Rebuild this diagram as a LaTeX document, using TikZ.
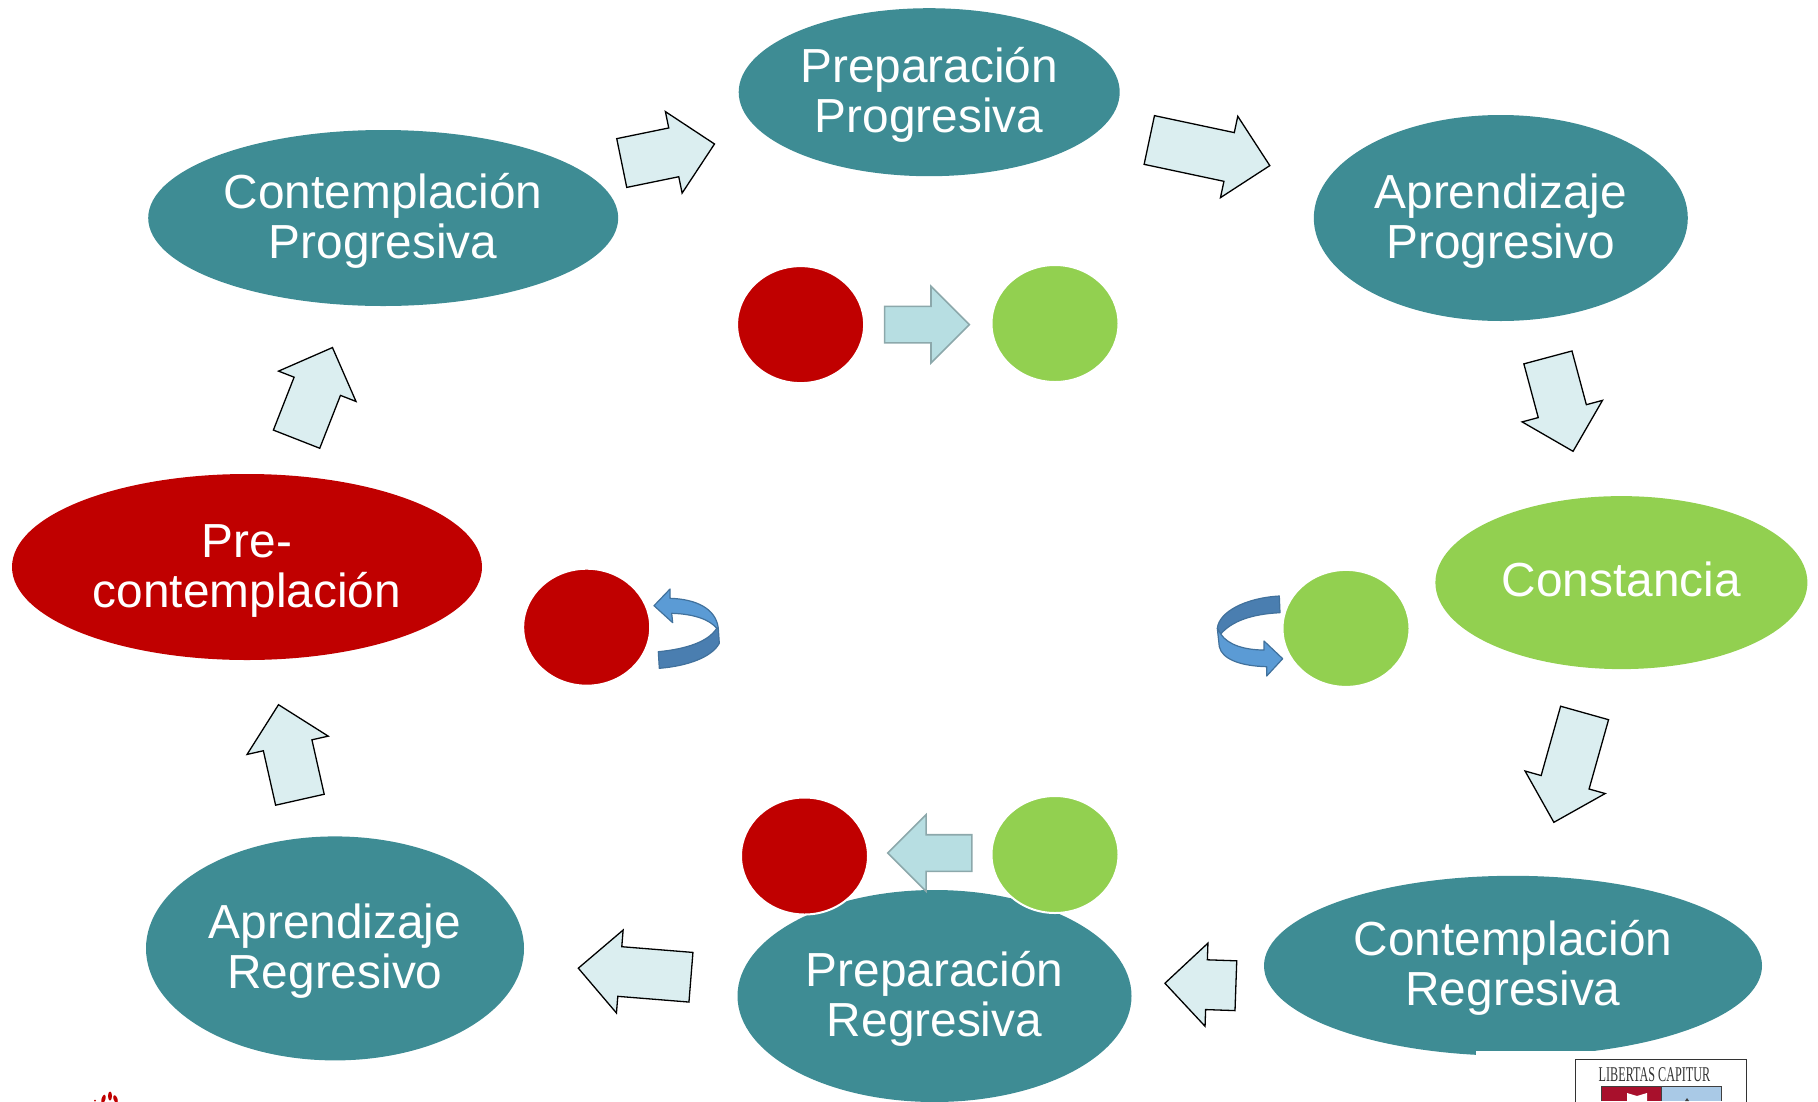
\documentclass[tikz,border=0pt]{standalone}
\usepackage{fontspec}
\setmainfont{Liberation Sans}
\newfontfamily\crestfont{Liberation Serif}
\usetikzlibrary{positioning,shapes.geometric,shapes.arrows}
\definecolor{stageteal}{HTML}{3E8C94}
\definecolor{stagered}{HTML}{C00000}
\definecolor{stagegreen}{HTML}{92D050}
\definecolor{blockfill}{HTML}{DBEEF0}
\definecolor{midfill}{HTML}{B7DEE2}
\definecolor{midline}{HTML}{8CA8AB}
\definecolor{curvelight}{HTML}{5B9BD5}
\definecolor{curvedark}{HTML}{4A7EB0}
\definecolor{curveline}{HTML}{41719C}
\definecolor{crestred}{HTML}{A8102C}
\definecolor{crestblue}{HTML}{A9C9E6}
\tikzset{
  stage/.style={ellipse, fill=stageteal, text=white, inner sep=0pt, align=center, font=\fontsize{47.8}{50}\selectfont},
  twolines/.style={execute at begin node=\rule{0pt}{90pt}},
  oneline/.style={execute at begin node={\rule[-6pt]{0pt}{6pt}}},
  pip/.style={ellipse, draw=white, line width=2pt, minimum width=127pt, minimum height=117pt, inner sep=0pt},
  blockarrow/.style={single arrow, anchor=tip, draw=black, line width=1.3pt, fill=blockfill, inner sep=0pt, text height=48.5pt, text depth=0pt, single arrow head extend=16.7pt},
  midarrow/.style={single arrow, anchor=tip, draw=midline, line width=1.6pt, fill=midfill, inner sep=0pt, text height=35pt, text depth=0pt, single arrow head extend=20pt},
  curveband/.style={fill=curvedark, draw=curveline, line width=1.2pt, line join=round},
  curvehead/.style={fill=curvelight, draw=curveline, line width=1.2pt, line join=round}
}
\begin{document}
\begin{tikzpicture}[x=1pt, y=-1pt, on grid]
\clip (0,0) rectangle (1818,1101);
\node[stage, twolines, fill=stagered, minimum width=470pt, minimum height=186pt] (pre) at (247,567) {Pre-\\contemplación};
\node[stage, twolines, minimum width=470pt, minimum height=176pt, above right=349pt and 136.2pt of pre] (cprog) {Contemplación\\Progresiva};
\node[stage, twolines, minimum width=381pt, minimum height=168pt, above right=125.8pt and 546pt of cprog] (pprog) {Preparación\\Progresiva};
\node[stage, twolines, minimum width=374pt, minimum height=206pt, below right=125.8pt and 571.6pt of pprog] (aprog) {Aprendizaje\\Progresivo};
\node[stage, oneline, fill=stagegreen, minimum width=372pt, minimum height=173pt, below right=364.6pt and 120.6pt of aprog] (const) {Constancia};
\node[stage, twolines, minimum width=498pt, minimum height=180pt, below left=383.2pt and 108.4pt of const] (creg) {Contemplación\\Regresiva};
\node[stage, twolines, minimum width=394pt, minimum height=212pt, below left=30.2pt and 578.5pt of creg] (preg) {Preparación\\Regresiva};
\node[stage, twolines, minimum width=378pt, minimum height=224pt, above left=47.6pt and 599.5pt of preg] (areg) {Aprendizaje\\Regresivo};
\fill[white] (1476,1051) rectangle (1818,1101);

\node[blockarrow, minimum height=94.7pt, rotate=11.6] (arrcp) at (715.4,143.8) {};
\node[blockarrow, minimum height=123.2pt, rotate=-12] (arrpa) at (1270.7,165.8) {};
\node[blockarrow, minimum height=97.2pt, rotate=-75] (arrac) at (1573.3,452.2) {};
\node[blockarrow, minimum height=113.6pt, rotate=-105.7] (arrcc) at (1553.6,823.2) {};
\node[blockarrow, minimum height=71pt, rotate=178] (arrcr) at (1164,983.2) {};
\node[blockarrow, minimum height=113pt, rotate=175.4] (arrpr) at (577.4,968.1) {};
\node[blockarrow, minimum height=97.4pt, rotate=102.7] (arrap) at (278.3,703.8) {};
\node[blockarrow, minimum height=98.4pt, rotate=68.6] (arrpc) at (332.8,346.7) {};

\node[pip, fill=stagered] (redtop) at (800.6,324.6) {};
\node[pip, fill=stagegreen] (greentop) at (1055,323.5) {};
\node[pip, fill=stagered] (redleft) at (586.7,627.2) {};
\node[pip, fill=stagegreen] (greenright) at (1346,628.4) {};
\node[pip, fill=stagered] (redlow) at (804.5,856) {};
\node[pip, fill=stagegreen] (greenlow) at (1055,854.5) {};
\node[midarrow, minimum height=84.6pt, rotate=0] (midtop) at (970.4,324.6) {};
\node[midarrow, minimum height=84pt, rotate=180] (midlow) at (886.7,853) {};

\path[curveband] (718.3,628.3) -- (719.3,643.3) .. controls (712,657) and (688,666) .. (659.3,668.3) -- (658.3,651.7) .. controls (686,649) and (708,642) .. (716.7,628.3) -- cycle;
\path[curvehead] (654,605.7) -- (670,589) -- (670,598.3) .. controls (695,599) and (716,608) .. (718.3,628.3) -- (716.7,628.3) .. controls (710,620) and (695,614) .. (671.7,613.3) -- (672.7,622.7) -- cycle;
\path[curveband] (1279.3,596) -- (1280,612.7) .. controls (1252,614) and (1232,621) .. (1220.7,634) -- (1217.3,628.3) .. controls (1219,612) and (1245,598) .. (1279.3,596) -- cycle;
\path[curvehead] (1220.7,634) .. controls (1228,645) and (1245,650) .. (1264,650) -- (1264,641) -- (1282.7,658.7) -- (1266.7,676) -- (1266.7,666.7) .. controls (1240,666) and (1222,659) .. (1219.3,646.7) -- (1217.3,628.3) -- cycle;

\fill[stagered] (110,1096) ellipse [x radius=2pt, y radius=4.5pt];
\fill[stagered, rotate around={20:(115.5,1099)}] (115.5,1099) ellipse [x radius=2pt, y radius=4pt];
\fill[stagered, rotate around={-15:(103.5,1099)}] (103.5,1099) ellipse [x radius=2pt, y radius=4.5pt];
\fill[stagered] (95,1100.5) circle (1pt);

\draw[black!80, line width=1.5pt] (1575.7,1140) rectangle (1746.7,1059.5);
\node[font=\crestfont\fontsize{21}{21}\selectfont, xscale=.58, text=black!80, inner sep=0pt] (motto) at (1654.5,1074.5) {LIBERTAS CAPITUR};
\fill[crestred] (1601.7,1086) rectangle (1661,1101);
\fill[crestblue] (1661,1086) rectangle (1721.7,1101);
\draw[black!75, line width=1pt] (1601.7,1101) |- (1721.7,1086) -- (1721.7,1101) (1661,1086) -- (1661,1101);
\fill[white] (1627,1093) -- (1637,1096) -- (1647,1093) -- (1647,1101) -- (1627,1101) -- cycle;
\fill[black!75] (1685,1101) -- (1687,1098) -- (1689,1101) -- cycle;
\end{tikzpicture}
\end{document}
